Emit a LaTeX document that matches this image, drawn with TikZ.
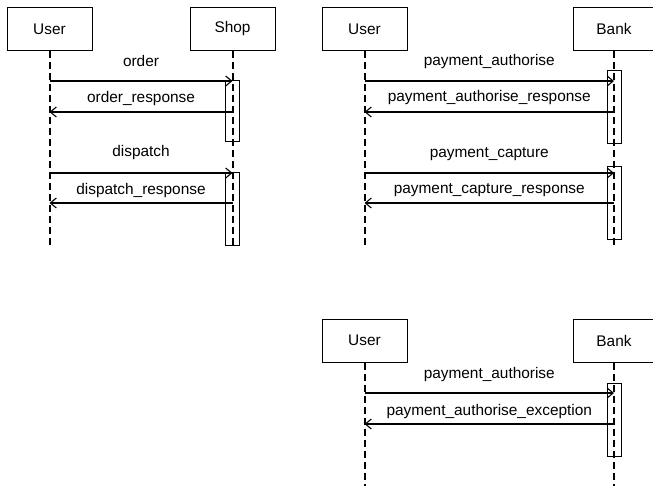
\documentclass[tikz,border=0pt]{standalone}
\usepackage{fontspec}
\setmainfont{Liberation Sans}
\usetikzlibrary{arrows.meta,calc}

\tikzset{
    actor/.style={draw, line width=1pt, minimum width=85pt, minimum height=43pt,
                  font=\fontsize{15.4}{18}\selectfont},
    lifeline/.style={line width=2pt, dash pattern=on 7pt off 4pt},
    activation/.style={draw, line width=1pt, fill=white},
    message/.style={line width=1.1pt, -{Straight Barb[length=6pt,width=10pt]}},
    msglabel/.style={anchor=base, inner sep=0pt, font=\fontsize{15.4}{18}\selectfont}
}

\begin{document}
\begin{tikzpicture}[x=1pt, y=-1pt]
    \useasboundingbox (0,0) rectangle (653,486);

    % participants
    \node[actor] (user1) at (49.5, 29)  {User};
    \node[actor] (shop)  at (232.5, 29) {Shop};
    \node[actor] (user2) at (364.5, 29) {User};
    \node[actor, minimum width=82pt] (bank2) at (614, 29) {Bank};
    \node[actor] (user3) at (364.5, 340.5) {User};
    \node[actor, minimum width=82pt] (bank3) at (614, 340.5) {Bank};

    % activation bars
    \foreach \who/\top/\bottom in {shop/81/142, shop/173/246,
                                   bank2/71/144, bank2/167/240,
                                   bank3/383/456}{
        \draw[activation] ($(\who |- 0,\top)+(-7,0)$) rectangle ($(\who |- 0,\bottom)+(7,0)$);
    }

    % lifelines
    \foreach \who/\len in {user1/246, shop/246, user2/246, bank2/246,
                           user3/486, bank3/486}{
        \coordinate (\who end) at (\who |- 0,\len);
        \draw[lifeline] (\who.south) -- (\who end);
    }

    % messages
    \foreach \src/\dst/\ya/\yl/\txt in {user1/shop/81/67/order,
                                        shop/user1/112/103/order\_response,
                                        user1/shop/173/157/dispatch,
                                        shop/user1/203/195/dispatch\_response,
                                        user2/bank2/81/66/payment\_authorise,
                                        bank2/user2/112/102/payment\_authorise\_response,
                                        user2/bank2/173/158/payment\_capture,
                                        bank2/user2/203/194/payment\_capture\_response,
                                        user3/bank3/393/378/payment\_authorise,
                                        bank3/user3/424/415/payment\_authorise\_exception}{
        \draw[message] (\src |- 0,\ya) -- (\dst |- 0,\ya);
        \path (\src |- 0,\yl) -- node[msglabel] {\txt} (\dst |- 0,\yl);
    }
\end{tikzpicture}
\end{document}
